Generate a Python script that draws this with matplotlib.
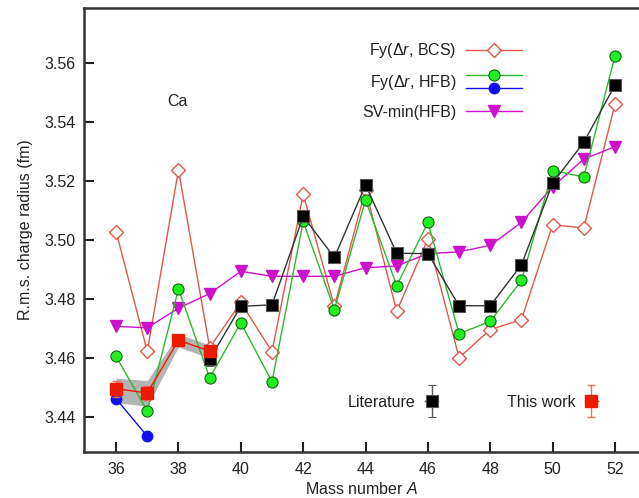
import matplotlib
matplotlib.use("Agg")
import matplotlib.pyplot as plt
from matplotlib.lines import Line2D
from matplotlib.legend_handler import HandlerBase, HandlerErrorbar
import numpy as np

plt.rcParams['font.family'] = ['Liberation Sans', 'DejaVu Sans']
plt.rcParams['mathtext.fontset'] = 'custom'
plt.rcParams['mathtext.rm'] = 'Liberation Sans'
plt.rcParams['mathtext.it'] = 'Liberation Sans:italic'

# ---------------- data ----------------
A = [36, 37, 38, 39, 40, 41, 42, 43, 44, 45, 46, 47, 48, 49, 50, 51, 52]
fy_bcs = [3.5027, 3.4621, 3.5237, 3.4634, 3.4787, 3.4620, 3.5155, 3.4774, 3.5170,
          3.4757, 3.5003, 3.4600, 3.4695, 3.4729, 3.5051, 3.5040, 3.5460]
fy_hfb = [3.4604, 3.4418, 3.4833, 3.4531, 3.4718, 3.4518, 3.5062, 3.4763, 3.5135,
          3.4844, 3.5059, 3.4681, 3.4723, 3.4862, 3.5235, 3.5213, 3.5624]
A_blue = [36, 37]
fy_hfb_blue = [3.4460, 3.4333]
sv_min = [3.4706, 3.4701, 3.4768, 3.4817, 3.4893, 3.4876, 3.4876, 3.4876, 3.4905,
          3.4911, 3.4953, 3.4959, 3.4981, 3.5059, 3.5180, 3.5274, 3.5316]
A_lit = [39, 40, 41, 42, 43, 44, 45, 46, 47, 48, 49, 50, 51, 52]
lit = [3.4594, 3.4774, 3.4779, 3.5079, 3.4940, 3.5186, 3.4954, 3.4953, 3.4776,
       3.4776, 3.4915, 3.5192, 3.5331, 3.5525]
lit_err = [0.0022, 0.0010, 0.0010, 0.0010, 0.0010, 0.0010, 0.0010, 0.0010, 0.0010,
           0.0010, 0.0010, 0.0010, 0.0010, 0.0012]
A_tw = [36, 37, 38, 39]
this_work = [3.4494, 3.4480, 3.4659, 3.4622]
tw_err = [0.0028, 0.0025, 0.0010, 0.0010]
band_low = [3.4447, 3.4435, 3.4636, 3.4598]
band_high = [3.4530, 3.4522, 3.4680, 3.4643]

xticks = [36, 38, 40, 42, 44, 46, 48, 50, 52]
yticks = [3.44, 3.46, 3.48, 3.50, 3.52, 3.54, 3.56]

# ---------------- figure ----------------
fig = plt.figure(figsize=(6.39, 4.98), dpi=100)
ax = fig.add_axes([84/639, 1 - 452/498, 1 - 84/639, (452 - 8)/498])

c_bcs = '#e2574a'
c_green_line = '#2eb82e'
c_green_face = '#22ee22'
c_blue = '#1010ee'
c_mag = '#cc11cc'
c_red = '#ee1a00'

ax.fill_between(A_tw, band_low, band_high, color='#b4b4b4', lw=0, zorder=1)

l_bcs, = ax.plot(A, fy_bcs, color=c_bcs, lw=1.0, marker='D', ms=7, mfc='white',
                 mec=c_bcs, mew=1.0, zorder=3)
l_hfb, = ax.plot(A, fy_hfb, color=c_green_line, lw=1.0, marker='o', ms=8,
                 mfc=c_green_face, mec='#136613', mew=0.8, zorder=4)
l_blue, = ax.plot(A_blue, fy_hfb_blue, color=c_blue, lw=1.0, marker='o', ms=7.5,
                  mfc=c_blue, mec=c_blue, zorder=4)
l_sv, = ax.plot(A, sv_min, color=c_mag, lw=1.0, marker='v', ms=8.5,
                mfc=c_mag, mec=c_mag, zorder=3)

e_lit = ax.errorbar(A_lit, lit, yerr=lit_err, color='#333333', lw=1.0, marker='s',
                    ms=8, mfc='black', mec='#555555', mew=0.8, ecolor='#555555',
                    elinewidth=1.0, capsize=3, zorder=5)
e_tw = ax.errorbar(A_tw, this_work, yerr=tw_err, color=c_red, lw=1.0, marker='s',
                   ms=8, mfc=c_red, mec=c_red, ecolor='#e87060', elinewidth=1.0,
                   capsize=3, zorder=6)

ax.set_xlim(34.97, 52.77)
ax.set_ylim(3.42795, 3.57867)
ax.set_xticks(xticks)
ax.set_yticks(yticks)
ax.set_yticklabels([f"{v:.2f}" for v in yticks])
ax.tick_params(direction='in', length=7, width=1.5, labelsize=11.5, colors='#222222',
               pad=6)
ax.tick_params(axis='x', pad=7)
for s in ['left', 'bottom', 'top']:
    ax.spines[s].set_linewidth(1.8)
    ax.spines[s].set_color('#333333')
ax.spines['right'].set_visible(False)

ax.set_xlabel('Mass number $A$', fontsize=11.5, color='#222222', labelpad=3)
ax.set_ylabel('R.m.s. charge radius (fm)', fontsize=11.5, color='#222222', labelpad=8)

ax.text(37.98, 3.5468, 'Ca', fontsize=11.5, ha='center', va='center', color='#222222')


class HandlerTwoLines(HandlerBase):
    def create_artists(self, legend, orig_handle, xdescent, ydescent, width, height,
                       fontsize, trans):
        top, bot = orig_handle
        yc = -ydescent + height / 2
        arts = []
        for h, dy in ((top, 5.0), (bot, -5.0)):
            ln = Line2D([-xdescent, -xdescent + width], [yc + dy, yc + dy],
                        color=h.get_color(), lw=h.get_linewidth())
            mk = Line2D([-xdescent + width / 2], [yc + dy], marker=h.get_marker(),
                        ms=h.get_markersize(), mfc=h.get_markerfacecolor(),
                        mec=h.get_markeredgecolor(), mew=h.get_markeredgewidth(),
                        ls='none')
            for a in (ln, mk):
                a.set_transform(trans)
                arts.append(a)
        return arts


leg1 = ax.legend([l_bcs, (l_hfb, l_blue), l_sv],
                 ['Fy($\\Delta$$r$, BCS)', 'Fy($\\Delta$$r$, HFB)', 'SV-min(HFB)'],
                 handler_map={tuple: HandlerTwoLines()},
                 loc='upper right', bbox_to_anchor=(0.789, 0.925), frameon=False,
                 markerfirst=False, handlelength=3.5, handletextpad=0.6,
                 labelspacing=0.8, borderpad=0, borderaxespad=0, fontsize=11.5)
for t in leg1.get_texts():
    t.set_color('#222222')
ax.add_artist(leg1)

leg2 = ax.legend([e_lit, e_tw], ['Literature', 'This work'], ncol=2,
                 handler_map={type(e_lit): HandlerErrorbar(xerr_size=0.0, yerr_size=1.0)},
                 loc='center left', bbox_to_anchor=(0.4757, 0.1126), frameon=False,
                 markerfirst=False, handlelength=0.8, handletextpad=0.6,
                 columnspacing=4.3, borderpad=0, borderaxespad=0, fontsize=11.5)
for t in leg2.get_texts():
    t.set_color('#222222')

fig.savefig('out.png', dpi=100)
